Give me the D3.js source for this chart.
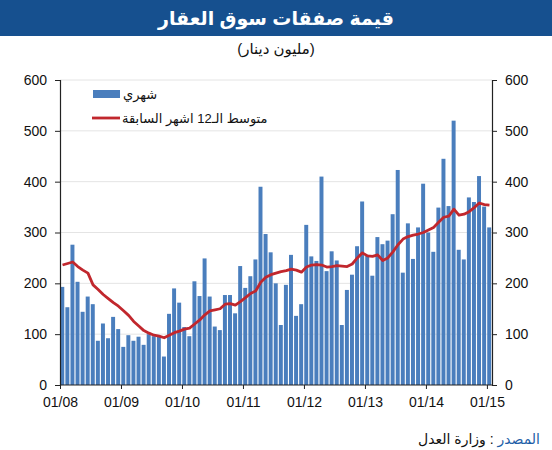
<!DOCTYPE html>
<html>
<head>
<meta charset="utf-8">
<title>Real estate deals</title>
<script src="https://cdn.jsdelivr.net/npm/d3@7/dist/d3.min.js"></script>
<style>
    body { margin: 0; background: white; }
    text { font-family: Arial, "Liberation Sans", "DejaVu Sans", sans-serif; }
</style>
</head>
<body>
<div id="chart"></div>
<script>
    // monthly values, Jan 2008 .. Jan 2015 (million dinars)
    var monthly = [193, 153, 276, 203, 144, 174, 159, 87, 121, 92, 134, 110,
                   75, 98, 87, 95, 79, 100, 96, 95, 56, 140, 190, 162,
                   114, 96, 204, 175, 249, 174, 115, 108, 177, 177, 141, 234,
                   191, 214, 247, 390, 297, 261, 200, 118, 197, 256, 136, 159,
                   315, 253, 244, 410, 224, 263, 245, 118, 187, 217, 273, 361,
                   256, 215, 291, 277, 284, 336, 423, 221, 318, 248, 310, 396,
                   300, 262, 349, 445, 352, 520, 266, 247, 369, 360, 411, 351,
                   310];
    // 12 month average as drawn
    var avg12 = [236, 239, 242, 233, 226, 220, 197, 188, 178, 170, 162, 155,
                 146, 137, 125, 116, 107, 102, 98, 96, 93, 98, 103, 106,
                 110, 112, 120, 128, 138, 146, 148, 150, 159, 160, 157, 164,
                 172, 180, 185, 202, 212, 217, 220, 223, 225, 228, 226, 222,
                 232, 236, 237, 236, 232, 233, 235, 234, 233, 238, 250, 260,
                 254, 253, 256, 245, 250, 262, 276, 287, 292, 295, 297, 300,
                 305, 310, 320, 330, 332, 346, 334, 336, 341, 349, 358, 355,
                 354];
    var yearLabels = ["01/08", "01/09", "01/10", "01/11", "01/12", "01/13", "01/14", "01/15"];
    var yTicks = [0, 100, 200, 300, 400, 500, 600];

    var width = 552, height = 450;
    var plotLeft = 60, plotRight = 492, plotTop = 80, plotBottom = 385;

    var svg = d3.select("#chart").append("svg")
        .attr("width", width)
        .attr("height", height);

    // header
    svg.append("rect")
        .attr("x", 0).attr("y", 0)
        .attr("width", width).attr("height", 36)
        .attr("fill", "#16508f");
    svg.append("text")
        .attr("x", width / 2).attr("y", 25)
        .attr("text-anchor", "middle")
        .attr("fill", "white")
        .attr("font-size", 19)
        .attr("font-weight", "bold")
        .text("قيمة صفقات سوق العقار");
    svg.append("text")
        .attr("x", width / 2).attr("y", 54)
        .attr("text-anchor", "middle")
        .attr("fill", "#111")
        .attr("font-size", 15)
        .text("(مليون دينار)");

    var x = d3.scaleLinear().domain([0, monthly.length]).range([plotLeft, plotRight]);
    var y = d3.scaleLinear().domain([0, 600]).range([plotBottom, plotTop]);
    var bw = x(1) - x(0);

    // grid
    svg.append("g").selectAll("line")
        .data(yTicks.slice(1))
        .enter().append("line")
        .attr("x1", plotLeft).attr("x2", plotRight)
        .attr("y1", function(d){ return y(d); })
        .attr("y2", function(d){ return y(d); })
        .attr("stroke", "#e4e4e4")
        .attr("stroke-width", 1);

    // bars
    svg.append("g").selectAll("rect")
        .data(monthly)
        .enter().append("rect")
        .attr("x", function(d, i){ return x(i) + 0.3; })
        .attr("width", bw * 0.78)
        .attr("y", function(d){ return y(d); })
        .attr("height", function(d){ return y(0) - y(d); })
        .attr("fill", "#4a7ebd");

    // moving average
    var line = d3.line()
        .x(function(d, i){ return x(i + 0.5); })
        .y(function(d){ return y(d); });
    svg.append("path")
        .datum(avg12)
        .attr("d", line)
        .attr("fill", "none")
        .attr("stroke", "#c1272d")
        .attr("stroke-width", 2.8)
        .attr("stroke-linejoin", "round");

    // axes
    var leftAxis = svg.append("g")
        .attr("transform", "translate(" + plotLeft + ",0)")
        .call(d3.axisLeft(y).tickValues(yTicks).tickSize(5).tickPadding(8));
    var rightAxis = svg.append("g")
        .attr("transform", "translate(" + plotRight + ",0)")
        .call(d3.axisRight(y).tickValues(yTicks).tickSize(5).tickPadding(8));
    var bottomAxis = svg.append("g")
        .attr("transform", "translate(0," + plotBottom + ")")
        .call(d3.axisBottom(x)
            .tickValues(yearLabels.map(function(d, i){ return i * 12; }))
            .tickFormat(function(d, i){ return yearLabels[i]; })
            .tickSize(4).tickPadding(8));

    [leftAxis, rightAxis, bottomAxis].forEach(function(a){
        a.select(".domain").attr("stroke", "#222").attr("stroke-width", 1.2);
        a.selectAll(".tick line").attr("stroke", "#222");
        a.selectAll(".tick text")
            .attr("font-size", 14)
            .attr("fill", "#111")
            .style("font-family", "Arial, 'Liberation Sans', sans-serif");
    });
    bottomAxis.select(".domain").attr("d", "M" + plotLeft + ",0H" + plotRight);

    // legend
    var legend = svg.append("g");
    legend.append("rect")
        .attr("x", 93).attr("y", 90)
        .attr("width", 27).attr("height", 8)
        .attr("fill", "#4a7ebd");
    legend.append("text")
        .attr("x", 123).attr("y", 99)
        .attr("font-size", 13)
        .attr("fill", "#111")
        .text("شهري");
    legend.append("line")
        .attr("x1", 92).attr("x2", 120)
        .attr("y1", 118).attr("y2", 118)
        .attr("stroke", "#c1272d")
        .attr("stroke-width", 2.8);
    legend.append("text")
        .attr("x", 122).attr("y", 123)
        .attr("font-size", 13)
        .attr("fill", "#111")
        .text("متوسط الـ12 اشهر السابقة");

    // source
    var src = svg.append("text")
        .attr("x", 540).attr("y", 444)
        .attr("text-anchor", "end")
        .attr("font-size", 14);
    src.append("tspan").attr("fill", "#1f5fa8").text("المصدر");
    src.append("tspan").attr("fill", "#111").text(" : وزارة العدل");
</script>
</body>
</html>
